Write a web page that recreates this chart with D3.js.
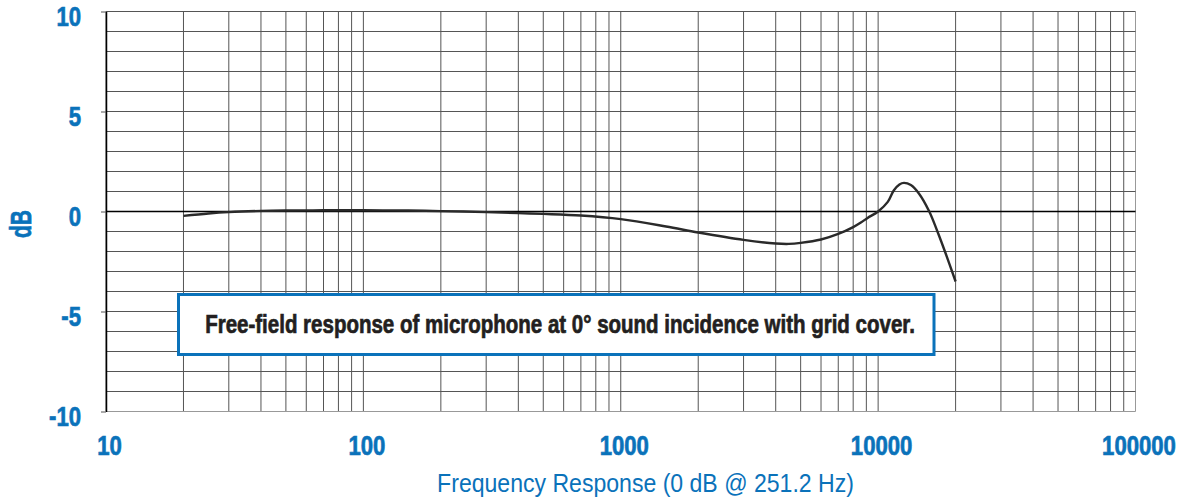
<!DOCTYPE html>
<html>
<head>
<meta charset="utf-8">
<script src="https://cdn.jsdelivr.net/npm/d3@7"></script>
<style>
  body { margin: 0; background: #fff; }
  #chart { width: 1181px; height: 501px; }
  .lbl { font-family: "Liberation Sans", Arial, sans-serif; }
  .heavy { stroke-width: 0.7px; paint-order: stroke; }
</style>
</head>
<body>
<div id="chart"></div>
<script>
// frequency response curve (Hz, dB)
const freqs = [20, 25, 30, 40, 50, 70, 100, 150, 200, 300, 400, 500, 700, 1000, 1500, 2000, 3000, 4000, 4500, 5000, 6000, 7000, 8000, 8600, 9100, 10000, 10900, 11500, 12100, 12600, 13400, 14400, 15800, 17000, 18300, 20000];
const levels = [-0.22, -0.1, -0.03, 0.03, 0.05, 0.06, 0.06, 0.05, 0.02, -0.03, -0.08, -0.12, -0.2, -0.38, -0.75, -1.05, -1.42, -1.6, -1.62, -1.57, -1.4, -1.12, -0.78, -0.54, -0.32, 0.0, 0.48, 1.05, 1.35, 1.43, 1.32, 0.9, 0.0, -1.0, -2.1, -3.5];

const xTicks = [10, 100, 1000, 10000, 100000];
const yTicks = [10, 5, 0, -5, -10];
const xTitle = 'Frequency Response (0 dB @ 251.2 Hz)';
const yTitle = 'dB';
const note = 'Free-field response of microphone at 0\u00b0 sound incidence with grid cover.';

const blue = '#0a72ba';
const narrow = 0.82;   // horizontal squeeze to mimic a condensed face
const margin = { top: 11.5, right: 45.5, bottom: 89.5, left: 106 };
const width = 1181, height = 501;
const w = width - margin.left - margin.right;
const h = height - margin.top - margin.bottom;

const svg = d3.select('#chart').append('svg')
    .attr('width', width)
    .attr('height', height);

const g = svg.append('g')
    .attr('transform', 'translate(' + margin.left + ',' + margin.top + ')');

const x = d3.scaleLog().domain([10, 100000]).range([0, w]);
const y = d3.scaleLinear().domain([-10, 10]).range([h, 0]);

// squeeze a text to a given width around its anchor
function fitText(sel, cx, cy, target, rotate) {
  const len = sel.node().getComputedTextLength();
  const sx = target / len;
  sel.attr('transform', 'translate(' + cx + ',' + cy + ')' + (rotate ? ' rotate(' + rotate + ')' : '') + ' scale(' + sx + ',1)');
}

// minor grid: 1..9 per decade, 1 dB steps
const vLines = [];
for (let dec = 10; dec < 100000; dec *= 10) {
  for (let k = 1; k <= 9; k++) vLines.push(dec * k);
}
vLines.push(100000);
const hLines = d3.range(-10, 11, 1);

g.append('g').selectAll('line')
    .data(vLines)
    .join('line')
    .attr('x1', d => x(d)).attr('x2', d => x(d))
    .attr('y1', 0).attr('y2', h)
    .attr('stroke', d => (d === 100000 ? '#999' : '#555'))
    .attr('stroke-width', 1);

g.append('g').selectAll('line')
    .data(hLines)
    .join('line')
    .attr('x1', 0).attr('x2', w)
    .attr('y1', d => y(d)).attr('y2', d => y(d))
    .attr('stroke', d => (d === 0 ? '#000' : d === -10 ? '#999' : '#555'))
    .attr('stroke-width', d => (d === 0 ? 1.6 : 1));

// left axis line + outward ticks
const yAxis = d3.axisLeft(y).tickValues(yTicks).tickSize(5).tickSizeOuter(0).tickFormat('');
const ya = g.append('g').call(yAxis);
ya.select('.domain').attr('stroke', '#000').attr('stroke-width', 1.5);
ya.selectAll('.tick line').attr('stroke', '#555');

ya.selectAll('.tick').append('text')
    .attr('class', 'lbl heavy')
    .attr('x', -25 / narrow)
    .attr('dy', '0.51em')
    .attr('transform', 'scale(' + narrow + ',1)')
    .attr('text-anchor', 'end')
    .attr('fill', blue)
    .attr('stroke', blue)
    .style('font-size', '27px')
    .style('font-weight', 'bold')
    .text(d => d);

// bottom labels
const xAxis = d3.axisBottom(x).tickValues(xTicks).tickSize(0).tickFormat(d => d);
const xa = g.append('g').attr('transform', 'translate(0,' + h + ')').call(xAxis);
xa.select('.domain').remove();
xa.selectAll('.tick text')
    .attr('class', 'lbl heavy')
    .attr('y', 43.5)
    .attr('dx', 3 / narrow)
    .attr('dy', 0)
    .attr('transform', 'scale(' + narrow + ',1)')
    .attr('fill', blue)
    .attr('stroke', blue)
    .style('font-size', '27px')
    .style('font-weight', 'bold');

// response curve
const line = d3.line()
    .x((d, i) => x(freqs[i]))
    .y(d => y(d))
    .curve(d3.curveCatmullRom.alpha(0.5));

g.append('path')
    .datum(levels)
    .attr('fill', 'none')
    .attr('stroke', '#2a2a2a')
    .attr('stroke-width', 2.4)
    .attr('stroke-linejoin', 'round')
    .attr('d', line);

// note box
svg.append('rect')
    .attr('x', 178.5)
    .attr('y', 294.5)
    .attr('width', 934 - 178.5)
    .attr('height', 60)
    .attr('fill', '#fff')
    .attr('stroke', blue)
    .attr('stroke-width', 3);
const noteText = svg.append('text')
    .attr('class', 'lbl heavy')
    .attr('text-anchor', 'middle')
    .attr('fill', '#231f20')
    .attr('stroke', '#231f20')
    .style('font-size', '25.5px')
    .style('font-weight', 'bold')
    .text(note);
fitText(noteText, 560, 333.3, 710);

// axis titles
const xt = svg.append('text')
    .attr('class', 'lbl')
    .attr('text-anchor', 'middle')
    .attr('fill', blue)
    .style('font-size', '26.5px')
    .text(xTitle);
fitText(xt, 645.5, 491.7, 417);

const yt = svg.append('text')
    .attr('class', 'lbl heavy')
    .attr('text-anchor', 'middle')
    .attr('fill', blue)
    .attr('stroke', blue)
    .style('font-size', '29px')
    .style('font-weight', 'bold')
    .text(yTitle);
fitText(yt, 30.7, 224, 28, -90);
</script>
</body>
</html>
